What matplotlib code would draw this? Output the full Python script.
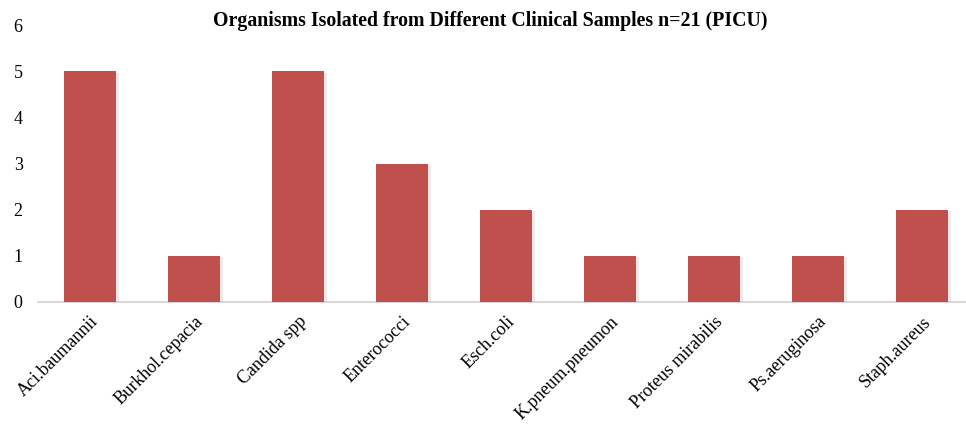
import matplotlib
matplotlib.use("Agg")
import matplotlib.pyplot as plt
import matplotlib.patheffects as pe
import matplotlib.transforms as mtransforms

organisms = ["Aci.baumannii", "Burkhol.cepacia", "Candida spp", "Enterococci",
             "Esch.coli", "K.pneum.pneumon", "Proteus mirabilis", "Ps.aeruginosa",
             "Staph.aureus"]
counts = [5, 1, 5, 3, 2, 1, 1, 1, 2]
y_ticks = [0, 1, 2, 3, 4, 5, 6]

plt.rcParams["font.family"] = ["Liberation Serif", "DejaVu Serif"]

W, H = 966, 424
fig = plt.figure(figsize=(W / 100, H / 100), dpi=100)
ax = fig.add_axes([38 / W, 122 / H, 936 / W, 277 / H])

bars = ax.bar(range(len(organisms)), counts, width=0.5, color="#C0504D", zorder=3)
for b in bars:
    b.set_path_effects([pe.SimplePatchShadow(offset=(2, -1), shadow_rgbFace="#999999", alpha=0.2),
                        pe.Normal()])

ax.set_xlim(-0.5, len(organisms) - 0.5)
ax.set_ylim(0, 6)
ax.set_yticks(y_ticks)
ax.set_yticklabels([str(v) for v in y_ticks], fontsize=13)
ax.set_xticks(range(len(organisms)))
ax.set_xticklabels(organisms, fontsize=13, rotation=45, ha="right",
                   rotation_mode="anchor")
shift = mtransforms.ScaledTranslation(8 / 100, 0, fig.dpi_scale_trans)
for lbl in ax.get_xticklabels():
    lbl.set_transform(lbl.get_transform() + shift)
ax.tick_params(axis="both", length=0, colors="black")
ax.tick_params(axis="y", pad=11)
ax.tick_params(axis="x", pad=8)

for side in ["top", "right", "left"]:
    ax.spines[side].set_visible(False)
ax.spines["bottom"].set_color("#D9D9D9")
ax.spines["bottom"].set_linewidth(1.5)

fig.text(490 / W, 1 - 21 / H, "Organisms Isolated from Different Clinical Samples n=21 (PICU)",
         ha="center", va="center", fontsize=14.3, fontweight="bold")

fig.savefig("out.png", dpi=100, facecolor="white")
